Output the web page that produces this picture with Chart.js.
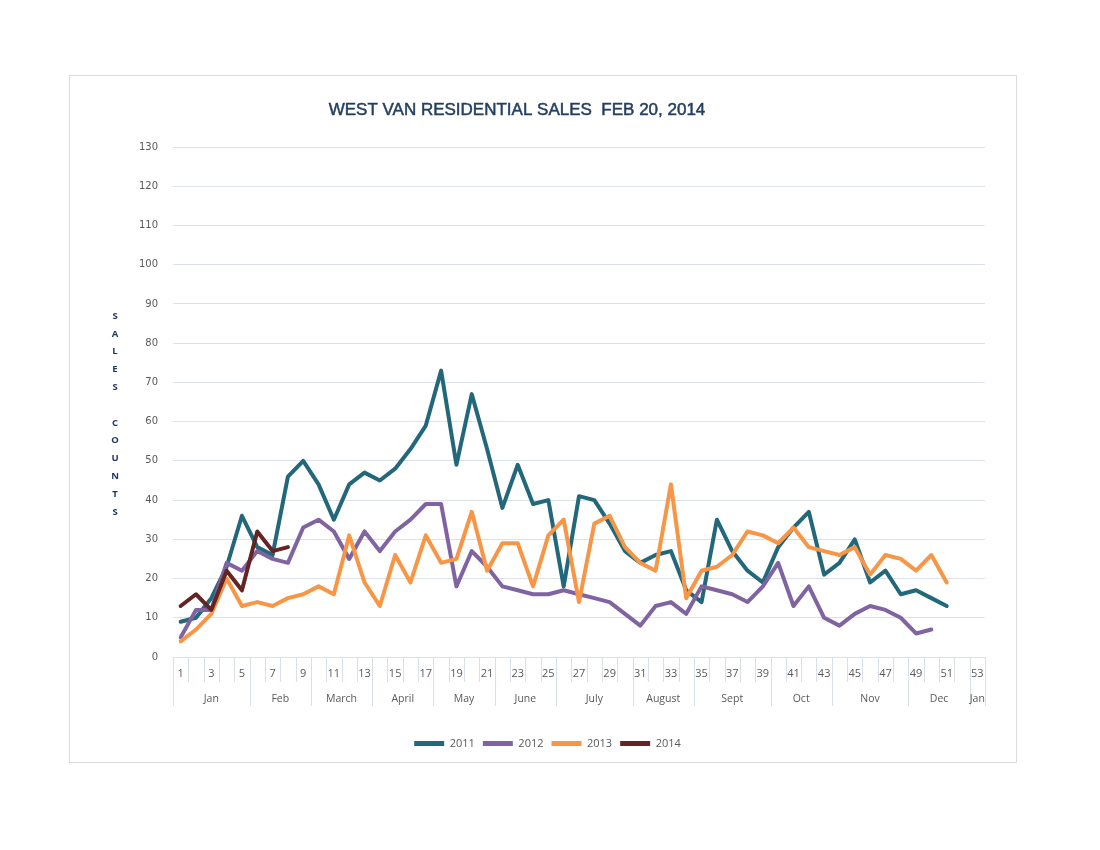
<!DOCTYPE html>
<html><head><meta charset="utf-8">
<script src="https://cdn.jsdelivr.net/npm/chart.js@4.4.1/dist/chart.umd.min.js"></script>
<style>
html,body{margin:0;padding:0;background:#fff;}
#box{position:absolute;left:69px;top:75px;width:946px;height:686px;border:1px solid #dcdcdc;}
canvas{display:block;}
</style></head><body>
<div id="box"><canvas id="c" width="946" height="686"></canvas></div>
<script>
const titleText = 'WEST VAN RESIDENTIAL SALES  FEB 20, 2014';
const yTitleLetters = ['S','A','L','E','S','','C','O','U','N','T','S'];
const weeks = ['1','2','3','4','5','6','7','8','9','10','11','12','13','14','15','16','17','18','19','20',
  '21','22','23','24','25','26','27','28','29','30','31','32','33','34','35','36','37','38','39','40',
  '41','42','43','44','45','46','47','48','49','50','51','52','53'];
const months = ['Jan','Feb','March','April','May','June','July','August','Sept','Oct','Nov','Dec','Jan'];
const monthWeeks = [5,4,4,4,4,4,5,4,5,4,5,4,1];
const yTicks = [0,10,20,30,40,50,60,70,80,90,100,110,120,130];

const s2011 = [9,10,15,23,36,28,26,46,50,44,35,44,47,45,48,53,59,73,49,67,53,38,49,39,40,18,41,40,34,27,24,26,27,17,14,35,27,22,19,28,33,37,21,24,30,19,22,16,17,15,13];
const s2012 = [5,12,12,24,22,27,25,24,33,35,32,25,32,27,32,35,39,39,18,27,23,18,17,16,16,17,16,15,14,11,8,13,14,11,18,17,16,14,18,24,13,18,10,8,11,13,12,10,6,7];
const s2013 = [4,7,11,20,13,14,13,15,16,18,16,31,19,13,26,19,31,24,25,37,22,29,29,18,31,35,14,34,36,28,24,22,44,15,22,23,26,32,31,29,33,28,27,26,28,21,26,25,22,26,19];
const s2014 = [13,16,12,22,17,32,27,28];

const seriesNames = ['2011','2012','2013','2014'];
const seriesColors = ['#22687a','#8064a2','#f79646','#632523'];

const tickColor = '#595959';

const decor = {
  id: 'decor',
  afterDraw(chart) {
    const {ctx} = chart;
    const x = chart.scales.x;
    const a = chart.chartArea;
    ctx.save();
    // title
    ctx.font = '17px "Liberation Sans", Arial, sans-serif';
    ctx.fillStyle = '#243f60';
    ctx.strokeStyle = '#243f60';
    ctx.lineWidth = 0.5;
    ctx.textAlign = 'center';
    ctx.textBaseline = 'middle';
    ctx.fillText(titleText, 447, 34);
    ctx.strokeText(titleText, 447, 34);
    // vertical y-axis title
    ctx.font = 'bold 9.5px "Open Sans", sans-serif';
    ctx.fillStyle = '#1f3864';
    yTitleLetters.forEach((ch, i) => { if (ch) ctx.fillText(ch, 45, 240 + i * 17.8); });
    // category boundary lines
    const half = (x.getPixelForValue(1) - x.getPixelForValue(0)) / 2;
    const bound = i => (i < weeks.length ? x.getPixelForValue(i) - half : x.getPixelForValue(weeks.length - 1) + half);
    const monthBounds = new Set([0]);
    let acc = 0;
    monthWeeks.forEach(n => { acc += n; monthBounds.add(acc); });
    ctx.strokeStyle = '#d9e0e9';
    ctx.lineWidth = 1;
    for (let i = 0; i <= weeks.length; i++) {
      const px = Math.round(bound(i)) + 0.5;
      const len = monthBounds.has(i) ? 49 : 25;
      ctx.beginPath();
      ctx.moveTo(px, a.bottom);
      ctx.lineTo(px, a.bottom + len);
      ctx.stroke();
    }
    // month labels
    ctx.font = '10.5px "Open Sans", sans-serif';
    ctx.fillStyle = tickColor;
    ctx.textBaseline = 'middle';
    let start = 0;
    monthWeeks.forEach((n, m) => {
      const cx = (bound(start) + bound(start + n)) / 2;
      ctx.fillText(months[m], cx, a.bottom + 42);
      start += n;
    });
    ctx.restore();
  }
};

new Chart(document.getElementById('c'), {
  type: 'line',
  data: {
    labels: weeks,
    datasets: [s2011, s2012, s2013, s2014].map((d, i) => ({
      label: seriesNames[i],
      data: d,
      borderColor: seriesColors[i],
      backgroundColor: seriesColors[i],
      borderWidth: 4,
      pointRadius: 0,
      pointHoverRadius: 0,
      tension: 0,
      fill: false,
      borderJoinStyle: 'round',
      borderCapStyle: 'round',
      order: 3 - i
    }))
  },
  options: {
    responsive: false,
    animation: false,
    devicePixelRatio: 1,
    layout: { padding: { left: 40, right: 31, top: 71, bottom: 3 } },
    plugins: {
      title: { display: false },
      tooltip: { enabled: false },
      legend: {
        position: 'bottom',
        labels: {
          boxWidth: 30,
          boxHeight: 5,
          padding: 8,
          color: tickColor,
          font: { size: 11, family: '"Open Sans", sans-serif' },
          generateLabels(chart) {
            return chart.data.datasets.map((d, i) => ({
              text: d.label, fillStyle: d.borderColor, strokeStyle: d.borderColor,
              lineWidth: 0, hidden: false, datasetIndex: i, fontColor: tickColor
            }));
          }
        }
      }
    },
    scales: {
      x: {
        offset: true,
        grid: { display: false, drawTicks: false },
        border: { display: false },
        ticks: {
          autoSkip: false, maxRotation: 0, minRotation: 0, padding: 10,
          color: tickColor,
          font: { size: 11, family: '"Open Sans", sans-serif' },
          callback(v, i) { return i % 2 === 0 ? weeks[i] : ''; }
        },
        afterFit(s) { s.height = 73; }
      },
      y: {
        min: 0, max: 130,
        afterBuildTicks(s) { s.ticks = yTicks.map(v => ({ value: v })); },
        grid: { color: '#dce1ea', drawTicks: false },
        border: { display: false },
        ticks: {
          padding: 15, color: tickColor,
          font: { size: 10, family: '"DejaVu Sans", sans-serif' }
        },
        afterFit(s) { s.width = 63; }
      }
    }
  },
  plugins: [decor]
});
</script>
</body></html>
